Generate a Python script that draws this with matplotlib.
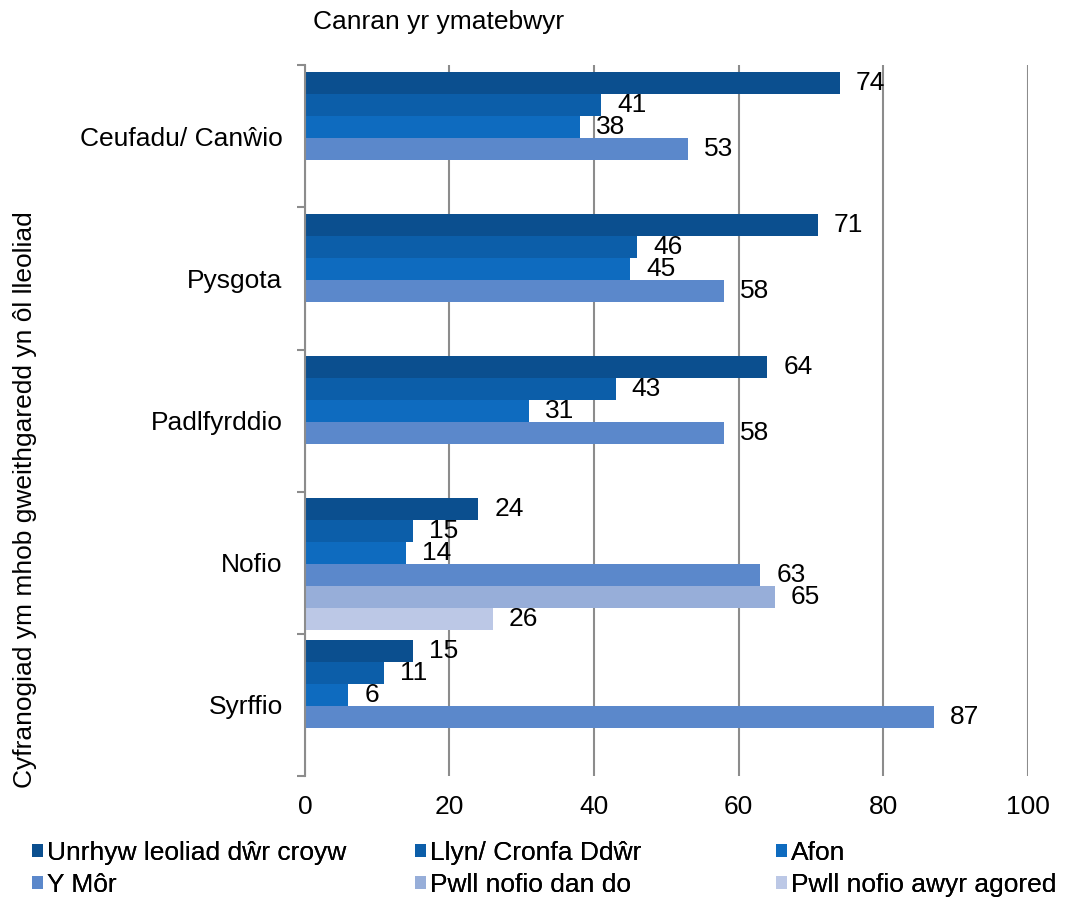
import numpy as np
import matplotlib.pyplot as plt

plt.rcParams['font.family'] = ['Liberation Sans', 'DejaVu Sans']

categories = ['Ceufadu/ Canŵio', 'Pysgota', 'Padlfyrddio', 'Nofio', 'Syrffio']
series = ['Unrhyw leoliad dŵr croyw', 'Llyn/ Cronfa Ddŵr', 'Afon',
          'Y Môr', 'Pwll nofio dan do', 'Pwll nofio awyr agored']
nan = np.nan
croyw = [74, 71, 64, 24, 15]
llyn = [41, 46, 43, 15, 11]
afon = [38, 45, 31, 14, 6]
mor = [53, 58, 58, 63, 87]
dan_do = [nan, nan, nan, 65, nan]
awyr_agored = [nan, nan, nan, 26, nan]
values = [croyw, llyn, afon, mor, dan_do, awyr_agored]
colors = ['#0b4f8f', '#0c5ea9', '#0e6bbf', '#5b88cb', '#97aed9', '#bcc8e6']

fs = 19
fig = plt.figure(figsize=(10.66, 9.05), dpi=100)
ax = fig.add_axes([0.286, 0.1425, 0.678, 0.7855])

h = 0.155
top_gap = 0.045
px_per_unit = 723 / 100.0
off = 16 / px_per_unit
bars = []
for j, (name, vals, c) in enumerate(zip(series, values, colors)):
    y = np.arange(len(categories)) + top_gap + j * h + h / 2
    b = ax.barh(y, vals, height=h, color=c, label=name, linewidth=0)
    bars.append(b)
    for yy, v in zip(y, vals):
        if not np.isnan(v):
            ax.text(v + off, yy, '%d' % v, va='center', ha='left', fontsize=fs)

ax.set_xlim(0, 100)
ax.set_ylim(len(categories), 0)
ax.set_xticks(np.arange(0, 101, 20))
ax.tick_params(axis='x', length=0, pad=14, labelsize=fs)
ax.grid(axis='x', color='#8c8c8c', linewidth=1.5)
ax.set_axisbelow(True)

ax.set_yticks(np.arange(0, len(categories) + 1))
ax.set_yticklabels([''] * (len(categories) + 1))
ax.tick_params(axis='y', which='major', length=6, width=1.5, color='#8c8c8c')
ax.set_yticks(np.arange(len(categories)) + 0.5, minor=True)
ax.set_yticklabels(categories, minor=True)
ax.tick_params(axis='y', which='minor', length=0, pad=16, labelsize=fs)

for s in ['top', 'right', 'bottom']:
    ax.spines[s].set_visible(False)
ax.spines['left'].set_color('#8c8c8c')
ax.spines['left'].set_linewidth(1.5)

fig.text(313 / 1066, 1 - 22 / 905, 'Canran yr ymatebwyr', fontsize=fs,
         va='center', ha='left')
fig.text(25 / 1066, 1 - 500 / 905,
         'Cyfranogiad ym mhob gweithgaredd yn ôl lleoliad',
         rotation=90, va='center', ha='center', fontsize=fs)

# legend laid out row by row in three columns
col_x = [32, 415, 776]
for k in range(3):
    leg = fig.legend([bars[k], bars[k + 3]], [series[k], series[k + 3]],
                     loc='center left',
                     bbox_to_anchor=(col_x[k] / 1066, 1 - 869 / 905),
                     frameon=False, fontsize=fs, borderpad=0,
                     handlelength=0.4, handleheight=0.4, handletextpad=0.15,
                     labelspacing=0.3, borderaxespad=0)
    fig.add_artist(leg)

fig.savefig('out.png', dpi=100)
